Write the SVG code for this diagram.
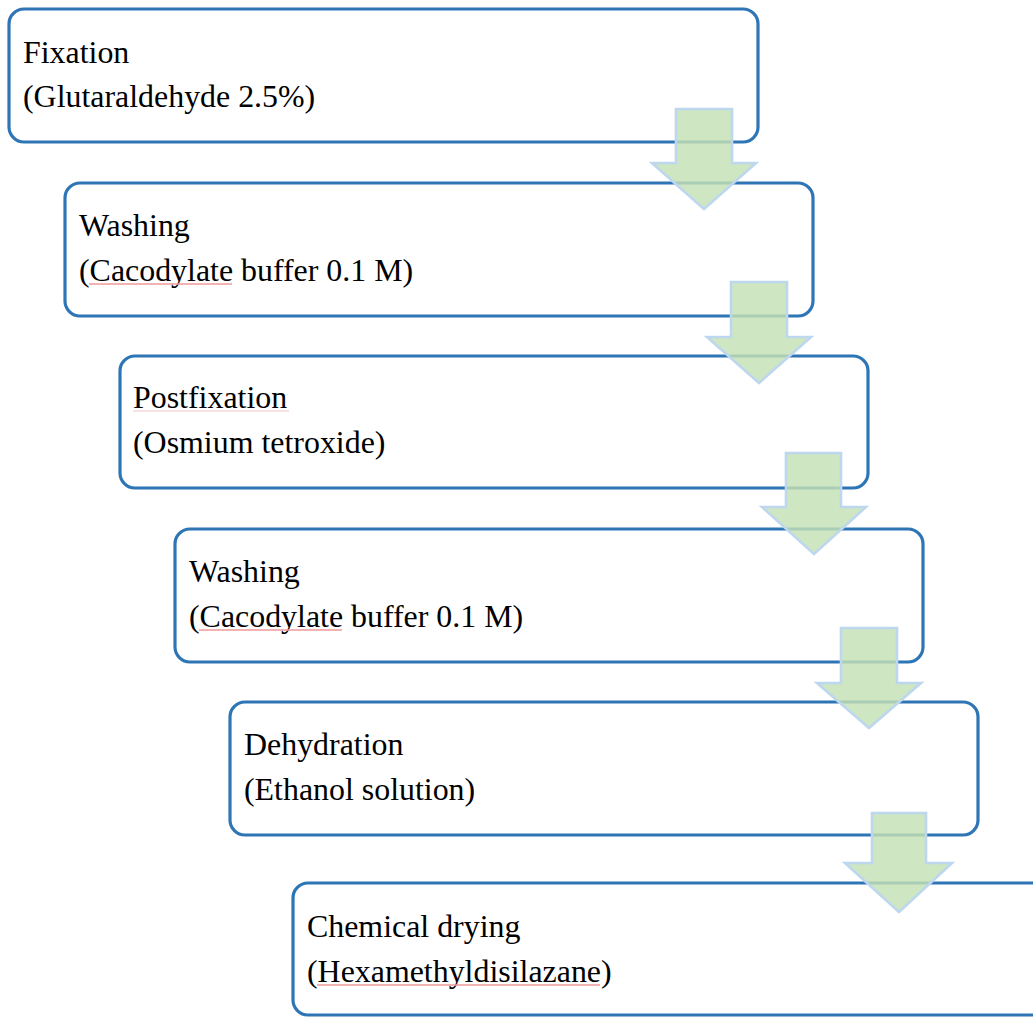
<svg xmlns="http://www.w3.org/2000/svg" width="1033" height="1017" viewBox="0 0 1033 1017">
<style>
.box{fill:#ffffff;stroke:#2e75b6;stroke-width:3.2}
.t{font-family:"Liberation Serif","Times New Roman",serif;font-size:31.9px;fill:#000000}
.sp{stroke:#f09a9a;stroke-width:1.3;fill:none}
.sp2{stroke:#f4c4c4;stroke-width:1;fill:none}
.arr{fill:#c5e0b4;fill-opacity:0.82;stroke:#bdd7ee;stroke-width:2.6;stroke-linejoin:miter}
</style>
<rect width="1033" height="1017" fill="#ffffff"/>
<g id="node-fixation">
<rect class="box" x="9" y="9" width="749" height="133" rx="15"/>
<text class="t" x="23" y="63">Fixation</text>
<text class="t" x="23" y="107">(Glutaraldehyde 2.5%)</text>
</g>
<g id="node-washing1">
<rect class="box" x="65" y="183" width="748" height="133" rx="15"/>
<text class="t" x="79" y="236">Washing</text>
<text class="t" x="79" y="281">(Cacodylate buffer 0.1 M)</text>
<line class="sp" x1="89" y1="284" x2="232" y2="284"/>
</g>
<g id="node-postfixation">
<rect class="box" x="120" y="356" width="748" height="132" rx="15"/>
<text class="t" x="133" y="408">Postfixation</text>
<line class="sp2" x1="133" y1="411" x2="289" y2="411"/>
<text class="t" x="133" y="453">(Osmium tetroxide)</text>
</g>
<g id="node-washing2">
<rect class="box" x="175" y="529" width="748" height="133" rx="15"/>
<text class="t" x="189" y="582">Washing</text>
<text class="t" x="189" y="627">(Cacodylate buffer 0.1 M)</text>
<line class="sp" x1="199" y1="630" x2="342" y2="630"/>
</g>
<g id="node-dehydration">
<rect class="box" x="230" y="702" width="748" height="133" rx="15"/>
<text class="t" x="244" y="755">Dehydration</text>
<text class="t" x="244" y="800">(Ethanol solution)</text>
</g>
<g id="node-drying">
<rect class="box" x="293" y="883" width="800" height="132" rx="15"/>
<text class="t" x="307" y="937">Chemical drying</text>
<text class="t" x="307" y="982">(Hexamethyldisilazane)</text>
<line class="sp" x1="317" y1="985" x2="600" y2="985"/>
</g>
<g id="connectors">
<polygon class="arr" points="676,109 732,109 732,163 756,163 704,209 652,163 676,163"/>
<polygon class="arr" points="731,282 787,282 787,337 811,337 759,383 707,337 731,337"/>
<polygon class="arr" points="786,453 841,453 841,507 866,507 814,554 762,507 786,507"/>
<polygon class="arr" points="841,628 897,628 897,683 921,683 869,728 817,683 841,683"/>
<polygon class="arr" points="872,813 926,813 926,863 952,863 899,912 845,863 872,863"/>
</g>
</svg>
